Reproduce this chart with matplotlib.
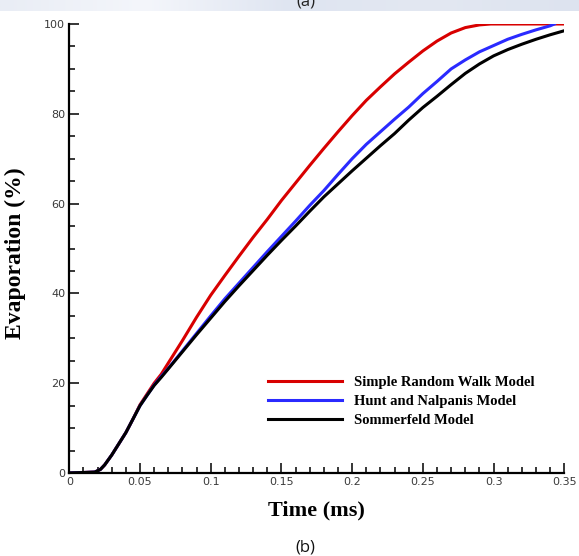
import matplotlib
matplotlib.use("Agg")
import matplotlib.pyplot as plt
import numpy as np
from matplotlib.ticker import MultipleLocator

# Simple Random Walk model
t_red = [0, 0.018, 0.022, 0.025, 0.03, 0.035, 0.04, 0.045, 0.05, 0.055, 0.06, 0.065,
         0.07, 0.08, 0.09, 0.10, 0.11, 0.12, 0.13, 0.14, 0.15, 0.16, 0.17, 0.18,
         0.19, 0.20, 0.21, 0.22, 0.23, 0.24, 0.25, 0.26, 0.27, 0.28, 0.29, 0.298, 0.35]
evap_red = [0, 0.2, 0.8, 1.8, 4.0, 6.5, 9.0, 12.0, 15.2, 17.6, 20.0, 22.0,
            24.5, 29.5, 34.7, 39.6, 44.0, 48.3, 52.5, 56.5, 60.7, 64.6, 68.5, 72.3,
            76.0, 79.6, 83.0, 86.0, 88.9, 91.5, 94.0, 96.2, 98.0, 99.2, 99.8, 100, 100]

# Hunt and Nalpanis model
t_blue = [0, 0.018, 0.022, 0.025, 0.03, 0.035, 0.04, 0.045, 0.05, 0.055, 0.06, 0.065,
          0.07, 0.08, 0.09, 0.10, 0.11, 0.12, 0.13, 0.14, 0.15, 0.16, 0.17, 0.18,
          0.19, 0.20, 0.21, 0.22, 0.23, 0.24, 0.25, 0.26, 0.27, 0.28, 0.29, 0.30,
          0.31, 0.32, 0.33, 0.34, 0.343]
evap_blue = [0, 0.2, 0.8, 1.8, 4.0, 6.5, 9.0, 12.0, 15.0, 17.3, 19.6, 21.5,
             23.3, 27.2, 31.1, 35.0, 38.8, 42.3, 45.8, 49.3, 52.7, 56.1, 59.6, 62.9,
             66.5, 70.0, 73.2, 76.0, 78.8, 81.5, 84.5, 87.2, 90.0, 92.0, 93.8, 95.2,
             96.6, 97.7, 98.7, 99.6, 100]

# Sommerfeld model
t_black = [0, 0.018, 0.022, 0.025, 0.03, 0.035, 0.04, 0.045, 0.05, 0.055, 0.06, 0.065,
           0.07, 0.08, 0.09, 0.10, 0.11, 0.12, 0.13, 0.14, 0.15, 0.16, 0.17, 0.18,
           0.19, 0.20, 0.21, 0.22, 0.23, 0.24, 0.25, 0.26, 0.27, 0.28, 0.29, 0.30,
           0.31, 0.32, 0.33, 0.34, 0.35]
evap_black = [0, 0.2, 0.8, 1.8, 4.0, 6.5, 9.0, 12.0, 15.0, 17.3, 19.5, 21.3,
              23.2, 27.0, 30.8, 34.5, 38.2, 41.7, 45.1, 48.5, 51.8, 55.0, 58.3, 61.5,
              64.4, 67.3, 70.1, 72.9, 75.6, 78.6, 81.4, 83.9, 86.5, 89.0, 91.1, 92.9,
              94.3, 95.5, 96.6, 97.6, 98.5]

labels = ['Simple Random Walk Model', 'Hunt and Nalpanis Model', 'Sommerfeld Model']
colors = ['#d80000', '#2a2aff', 'black']

fig = plt.figure(figsize=(5.79, 5.56), dpi=100)

# strip of the page above the figure
strip = fig.add_axes([0, 1 - 11 / 556, 1, 11 / 556])
grad = np.linspace(0, 1, 256).reshape(1, -1)
strip.imshow(grad, aspect='auto', cmap=matplotlib.colors.LinearSegmentedColormap.from_list(
    'strip', ['#e9edf5', '#f4f6fb', '#dfe5f1', '#e3e8f2', '#dde3ef']), extent=[0, 1, 0, 1])
strip.axis('off')
fig.text(0.528, 1 - 10 / 556, '(a)', ha='center', va='bottom', fontsize=12,
         family='Open Sans', color='#222222')

ax = fig.add_axes([69.3 / 579, 1 - 473 / 556, (564.3 - 69.3) / 579, (473 - 24) / 556])

ax.plot(t_red, evap_red, color=colors[0], lw=2.2, label=labels[0])
ax.plot(t_blue, evap_blue, color=colors[1], lw=2.2, label=labels[1])
ax.plot(t_black, evap_black, color=colors[2], lw=2.2, label=labels[2])

ax.set_xlim(0, 0.35)
ax.set_ylim(0, 100)
ax.spines['top'].set_visible(False)
ax.spines['right'].set_visible(False)
ax.spines['left'].set_linewidth(1.6)
ax.spines['bottom'].set_linewidth(1.6)

ax.xaxis.set_major_locator(MultipleLocator(0.05))
ax.xaxis.set_minor_locator(MultipleLocator(0.01))
ax.yaxis.set_major_locator(MultipleLocator(20))
ax.yaxis.set_minor_locator(MultipleLocator(5))
ax.xaxis.set_major_formatter(matplotlib.ticker.FuncFormatter(
    lambda v, p: '0' if abs(v) < 1e-9 else ('%.2f' % v).rstrip('0')))
ax.tick_params(which='major', direction='in', length=7, width=1.1,
               labelsize=8, labelcolor='#3a3a3a', pad=3)
ax.tick_params(which='minor', direction='in', length=4.5, width=1.1)

ax.set_xlabel('Time (ms)', family='Liberation Serif', fontweight='bold', fontsize=16)
ax.xaxis.set_label_coords(0.5, -0.062)
ax.set_ylabel('Evaporation (%)', family='Liberation Serif', fontweight='bold', fontsize=17)
ax.yaxis.set_label_coords(-0.088, 0.49)

ax.legend(loc='upper left', bbox_to_anchor=(0.401, 0.217), frameon=False,
          borderpad=0, borderaxespad=0,
          prop={'family': 'Liberation Serif', 'weight': 'bold', 'size': 10.5},
          handlelength=5.1, labelspacing=0.4, handletextpad=0.8)

fig.text(0.528, 1 / 556, '(b)', ha='center', va='bottom', fontsize=12,
         family='Open Sans', color='#111111')

plt.savefig('out.png', dpi=100)
